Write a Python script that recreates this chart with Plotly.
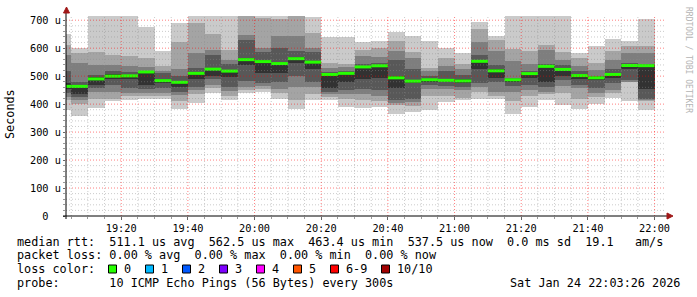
import plotly.graph_objects as go
import pandas as pd

# ---------------- data ----------------
col_start = pd.date_range("2026-01-24 19:00", periods=36, freq="5min")
view_start = pd.Timestamp("2026-01-24 19:03:26")
view_end = pd.Timestamp("2026-01-24 22:03:26")

# median rtt per 5-minute step (microseconds)
median = [463.4, 463.4, 490, 500, 501, 515, 484, 478, 510, 525, 518, 559,
          552, 545, 562.5, 550, 506, 510, 533, 537, 494, 482, 487, 485,
          483, 553, 519, 487, 509, 535, 524, 502, 494, 506, 538, 537.5]

# sorted ping rtts per step (ping01 = fastest ... ping10 = slowest), microseconds
ping10 = [650, 602, 720, 720, 720, 675, 590, 690, 720, 720, 720, 740, 720, 720, 740, 713, 641, 641,
          622, 626, 658, 644, 625, 602, 582, 694, 643, 720, 720, 720, 720, 582, 608, 632, 626, 703]
ping09 = [613, 584, 585, 577, 572, 565, 536, 622, 689, 649, 592, 725, 708, 706, 725, 656, 548, 543,
          593, 600, 626, 588, 530, 566, 545, 670, 628, 597, 589, 611, 587, 564, 546, 589, 609, 607]
ping08 = [577, 548, 541, 541, 536, 531, 520, 524, 581, 595, 556, 648, 601, 643, 643, 600, 530, 532,
          572, 570, 591, 566, 520, 538, 524, 621, 589, 553, 543, 595, 558, 538, 523, 556, 583, 582]
ping07 = [517, 480, 505, 519, 514, 520, 510, 500, 530, 574, 542, 628, 586, 600, 590, 585, 515, 520,
          545, 548, 558, 524, 500, 518, 505, 577, 540, 495, 520, 545, 540, 520, 502, 524, 548, 545]
ping06 = [475, 470, 497, 508, 505, 518, 490, 482, 515, 530, 522, 565, 558, 550, 568, 555, 510, 512,
          538, 541, 500, 486, 490, 490, 490, 557, 524, 490, 512, 538, 528, 506, 497, 510, 542, 540]
ping05 = [455, 435, 470, 490, 490, 470, 475, 460, 490, 500, 498, 540, 510, 512, 548, 525, 458, 480,
          490, 493, 457, 476, 478, 478, 476, 525, 495, 480, 495, 478, 500, 490, 485, 495, 525, 455]
ping04 = [438, 425, 458, 470, 459, 455, 458, 445, 461, 490, 461, 482, 475, 480, 500, 478, 445, 450,
          455, 450, 415, 420, 470, 465, 462, 475, 480, 465, 470, 460, 485, 470, 458, 476, 485, 420]
ping03 = [425, 415, 445, 445, 440, 438, 440, 432, 452, 470, 446, 460, 465, 455, 460, 460, 435, 435,
          436, 430, 405, 408, 455, 454, 452, 462, 445, 442, 450, 445, 465, 458, 440, 450, 480, 415]
ping02 = [415, 400, 420, 420, 428, 428, 428, 410, 436, 459, 430, 452, 455, 440, 416, 437, 425, 420,
          415, 410, 398, 395, 428, 430, 422, 445, 428, 410, 428, 435, 440, 418, 425, 438, 478, 410]
ping01 = [380, 356, 385, 410, 416, 418, 418, 383, 404, 439, 416, 440, 445, 418, 382, 416, 416, 388,
          386, 388, 366, 371, 378, 406, 413, 420, 417, 366, 390, 415, 396, 384, 402, 423, 410, 378]

y_tick_vals = [0, 100, 200, 300, 400, 500, 600, 700]
y_tick_text = ["0\u00a0\u00a0", "100\u00a0u", "200\u00a0u", "300\u00a0u", "400\u00a0u",
               "500\u00a0u", "600\u00a0u", "700\u00a0u"]

loss_labels = ["0", "1", "2", "3", "4", "5", "6-9", "10/10"]
loss_colors = ["#26ff00", "#00b8ff", "#0059ff", "#7e00ff", "#ff00ff", "#ff5500", "#ff0000", "#a10000"]

legend_lines = [
    "median rtt:  511.1 us avg  562.5 us max  463.4 us min  537.5 us now  0.0 ms sd  19.1   am/s",
    "packet loss: 0.00 % avg  0.00 % max  0.00 % min  0.00 % now",
    "loss color:",
    "probe:       10 ICMP Echo Pings (56 Bytes) every 300s",
]
stamp = "Sat Jan 24 22:03:26 2026"

# ---------------- figure ----------------
STEP = pd.Timedelta("5min")
STEP_MS = 300000
centers = col_start + STEP / 2

low_pings = [ping01, ping02, ping03, ping04, ping05]
high_pings = [ping10, ping09, ping08, ping07, ping06]
smoke_cols = ["#cacaca", "#a4a4a4", "#7e7e7e", "#585858", "#323232"]

fig = go.Figure()
for lo, hi, c in zip(low_pings, high_pings, smoke_cols):
    fig.add_trace(go.Bar(
        x=centers, y=[h - l for h, l in zip(hi, lo)], base=lo,
        width=STEP_MS, marker=dict(color=c, line=dict(width=0)),
        hoverinfo="skip"))

mx, my = [], []
for s, m in zip(col_start, median):
    mx += [s, s + STEP, None]
    my += [m, m, None]
fig.add_trace(go.Scatter(x=mx, y=my, mode="lines",
                         line=dict(color=loss_colors[0], width=3), hoverinfo="skip"))

Y_MAX = 715
L, R, T, B = 66, 31, 16, 81
W, H = 697, 297
PW, PH = W - L - R, H - T - B


def px(xp):
    return (xp - L) / PW


def py(yp):
    return (H - B - yp) / PH


MAJOR = "rgba(255,0,0,0.5)"
MINOR = "rgba(140,140,140,0.45)"
shapes = []
# grid drawn above the smoke, like rrdtool
for v in range(20, Y_MAX, 20):
    major = v % 100 == 0
    shapes.append(dict(type="line", xref="x", yref="y", x0=view_start, x1=view_end, y0=v, y1=v,
                       layer="above",
                       line=dict(color=MAJOR if major else MINOR, width=1, dash="1px,2px")))
for t in pd.date_range("2026-01-24 19:05", "2026-01-24 22:00", freq="5min"):
    major = t.minute % 20 == 0
    shapes.append(dict(type="line", xref="x", yref="y", x0=t, x1=t, y0=0, y1=Y_MAX,
                       layer="above",
                       line=dict(color=MAJOR if major else MINOR, width=1, dash="1px,2px")))

# axes with arrows
shapes.append(dict(type="line", xref="paper", yref="paper", x0=px(63), x1=px(668), y0=0, y1=0,
                   line=dict(color="#000000", width=1), layer="above"))
shapes.append(dict(type="line", xref="paper", yref="paper", x0=0, x1=0, y0=py(219), y1=py(12),
                   line=dict(color="#000000", width=1), layer="above"))
shapes.append(dict(type="path", xref="paper", yref="paper",
                   path=f"M {px(63.5)},{py(13)} L {px(69.5)},{py(13)} L {px(66.5)},{py(7)} Z",
                   fillcolor="#a01818", line=dict(color="#a01818", width=1), layer="above"))
shapes.append(dict(type="path", xref="paper", yref="paper",
                   path=f"M {px(667)},{py(213)} L {px(667)},{py(219)} L {px(673)},{py(216)} Z",
                   fillcolor="#a01818", line=dict(color="#a01818", width=1), layer="above"))

annotations = []
line_y = [241.5, 255.3, 269.2, 283.0]
for txt, yy in zip(legend_lines, line_y):
    annotations.append(dict(xref="paper", yref="paper", x=px(16), y=py(yy), xanchor="left",
                            yanchor="middle", showarrow=False, borderpad=0,
                            text=txt.replace(" ", "\u00a0"),
                            font=dict(family="DejaVu Sans Mono", size=11.8, color="#000")))
annotations.append(dict(xref="paper", yref="paper", x=px(681), y=py(line_y[3]), xanchor="right",
                        yanchor="middle", showarrow=False, borderpad=0,
                        text=stamp.replace(" ", "\u00a0"),
                        font=dict(family="DejaVu Sans Mono", size=11.8, color="#000")))

sq_x = [108.5, 145.5, 182.5, 219.5, 256.5, 293.5, 330.5, 381.5]
for xs, lab, col in zip(sq_x, loss_labels, loss_colors):
    shapes.append(dict(type="rect", xref="paper", yref="paper", x0=px(xs), x1=px(xs + 8),
                       y0=py(273), y1=py(265), fillcolor=col, line=dict(color="#000", width=1)))
    annotations.append(dict(xref="paper", yref="paper", x=px(xs + 14), y=py(line_y[2]),
                            xanchor="left", yanchor="middle", showarrow=False, borderpad=0,
                            text=lab, font=dict(family="DejaVu Sans Mono", size=11.8, color="#000")))

annotations.append(dict(xref="paper", yref="paper", x=px(10), y=py(114), textangle=-90,
                        xanchor="center", yanchor="middle", showarrow=False, borderpad=0,
                        text="Seconds", font=dict(family="DejaVu Sans Mono", size=11.8, color="#000")))
annotations.append(dict(xref="paper", yref="paper", x=px(688), y=py(60), textangle=90,
                        xanchor="center", yanchor="middle", showarrow=False, borderpad=0,
                        text="RRDTOOL\u00a0/\u00a0TOBI\u00a0OETIKER",
                        font=dict(family="DejaVu Sans Mono", size=8, color="#b4b4b4")))

fig.update_layout(
    width=W, height=H, margin=dict(l=L, r=R, t=T, b=B),
    plot_bgcolor="white", paper_bgcolor="white", showlegend=False,
    barmode="overlay", bargap=0,
    font=dict(family="DejaVu Sans Mono", size=10.3, color="#000"),
    shapes=shapes, annotations=annotations,
    xaxis=dict(type="date", range=[view_start, view_end], tickformat="%H:%M",
               dtick=1200000, tick0="2026-01-24 19:20:00", ticks="outside", ticklen=3,
               tickcolor="#666", showgrid=False, zeroline=False, showline=False,
               tickfont=dict(family="DejaVu Sans Mono", size=10.3, color="#000"),
               minor=dict(dtick=STEP_MS, tick0="2026-01-24 19:05:00", ticks="outside",
                          ticklen=2, tickcolor="#999", showgrid=False)),
    yaxis=dict(range=[0, Y_MAX], tickvals=y_tick_vals, ticktext=y_tick_text,
               ticks="outside", ticklen=2, tickcolor="#666", showgrid=False,
               zeroline=False, showline=False,
               tickfont=dict(family="DejaVu Sans Mono", size=10.3, color="#000"),
               minor=dict(dtick=20, ticks="outside", ticklen=2, tickcolor="#999", showgrid=False)),
)

fig.write_html("out.html")
